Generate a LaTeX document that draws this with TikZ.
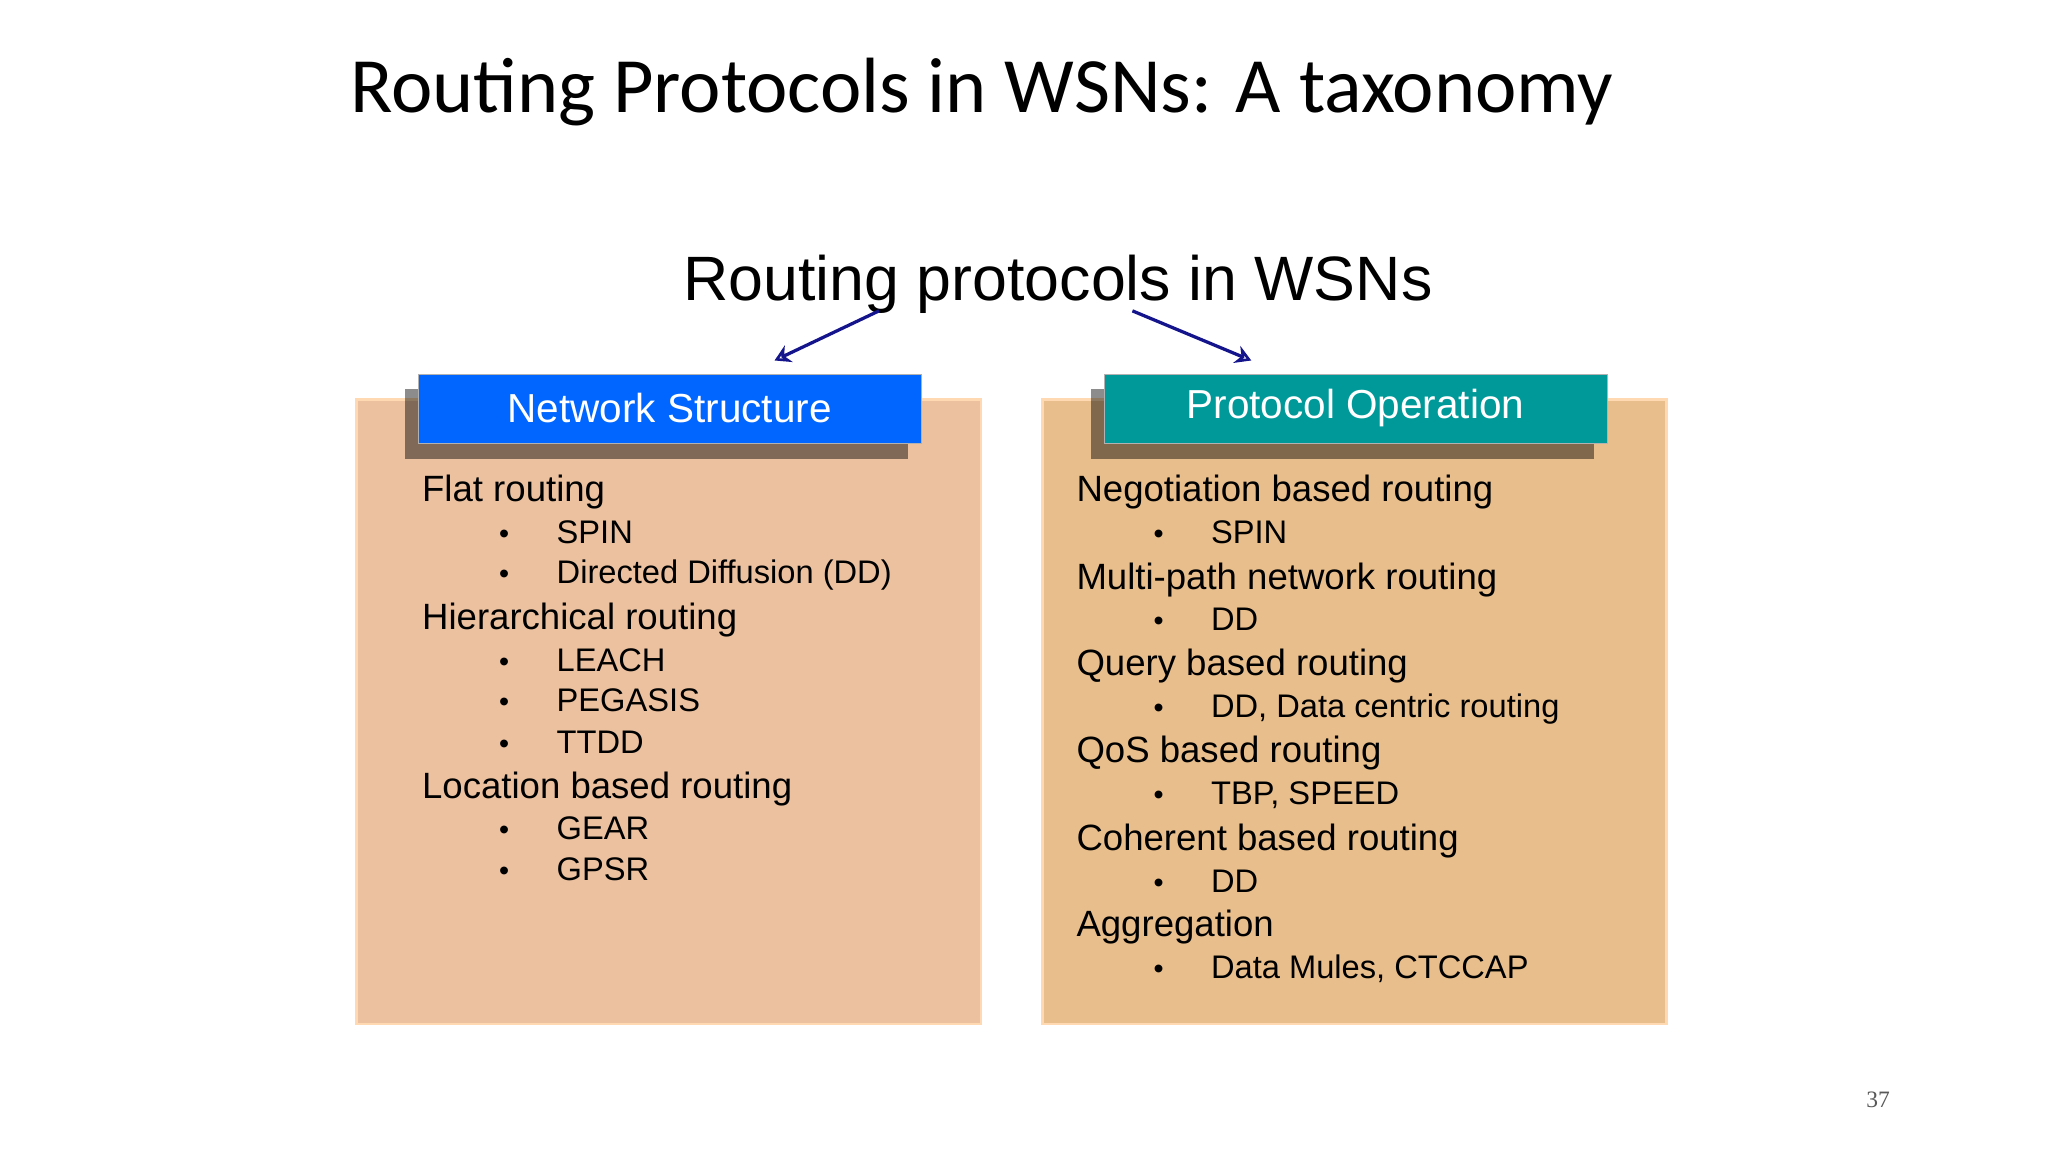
\documentclass[tikz,border=0pt]{standalone}
\usepackage{fontspec}
\setmainfont{Liberation Sans}
\newfontfamily\titlefont{Carlito}
\newfontfamily\numfont{Liberation Serif}
\usetikzlibrary{shadows,arrows.meta}
\definecolor{peachL}{RGB}{235,193,160}
\definecolor{peachR}{RGB}{232,190,140}
\definecolor{hblue}{RGB}{0,102,255}
\definecolor{hteal}{RGB}{0,153,153}
\definecolor{navy}{RGB}{20,20,140}
\tikzset{
 panel/.style={anchor=north west,minimum width=478pt,minimum height=478pt,inner sep=0pt,draw=orange!30,line width=2pt},
 header/.style={anchor=north west,minimum width=385pt,minimum height=53pt,inner sep=0pt,text=white,font=\fontsize{31}{31}\selectfont,draw=gray!60,
   drop shadow={shadow xshift=-10pt,shadow yshift=-12pt,fill=black,opacity=0.45}},
 head/.style={anchor=base west,inner sep=0pt,font=\fontsize{28}{28}\selectfont},
 item/.style={anchor=base west,inner sep=0pt,font=\fontsize{25}{25}\selectfont},
 bul/.style={anchor=base,inner sep=0pt,font=\fontsize{22}{22}\selectfont},
 arr/.style={draw=navy,line width=2.5pt,-{Stealth[length=12pt,width=14pt,open]}}
}
\begin{document}
\begin{tikzpicture}[x=1pt,y=-1pt]
\useasboundingbox[fill=white] (0,0) rectangle (1568,882);
\node[anchor=base west,inner sep=0pt,font=\titlefont\fontsize{60}{60}\selectfont] (title) at (268,86) {Routing Protocols in WSNs: A taxonomy};
\node[anchor=base,inner sep=0pt,font=\fontsize{48}{48}\selectfont] (sub) at (810,230) {Routing protocols in WSNs};
\node[panel,fill=peachL] (lp) at (272,305) {};
\node[panel,fill=peachR] (rp) at (797,305) {};
\node[header,fill=hblue] (lh) at (320,286) {Network Structure};
\node[header,fill=hteal] (rh) at (845,286) {Protocol Operation};
\coordinate (a1) at (673,238); \coordinate (a2) at (867,238);
\draw[arr] (a1) -- (593,276);
\draw[arr] (a2) -- (958,276);
% left
\foreach \t/\y in {Flat routing/384,Hierarchical routing/482,Location based routing/611}
  \node[head] at (323,\y) {\t};
\foreach \t/\y in {SPIN/416,Directed Diffusion (DD)/447,LEACH/514,PEGASIS/545,TTDD/577,GEAR/643,GPSR/674}
  {\node[bul] at (386,\y) {•}; \node[item] at (426,\y) {\t};}
% right
\foreach \t/\y in {Negotiation based routing/384,Multi-path network routing/451,Query based routing/517,QoS based routing/584,Coherent based routing/651,Aggregation/717}
  \node[head] at (824,\y) {\t};
\foreach \t/\y in {SPIN/416,DD/483,{DD, Data centric routing}/549,{TBP, SPEED}/616,DD/683,{Data Mules, CTCCAP}/749}
  {\node[bul] at (887,\y) {•}; \node[item] at (927,\y) {\t};}
\node[anchor=base,inner sep=0pt,text=gray!70!black,font=\numfont\fontsize{18}{18}\selectfont] (pg) at (1438,848) {37};
\end{tikzpicture}
\end{document}
